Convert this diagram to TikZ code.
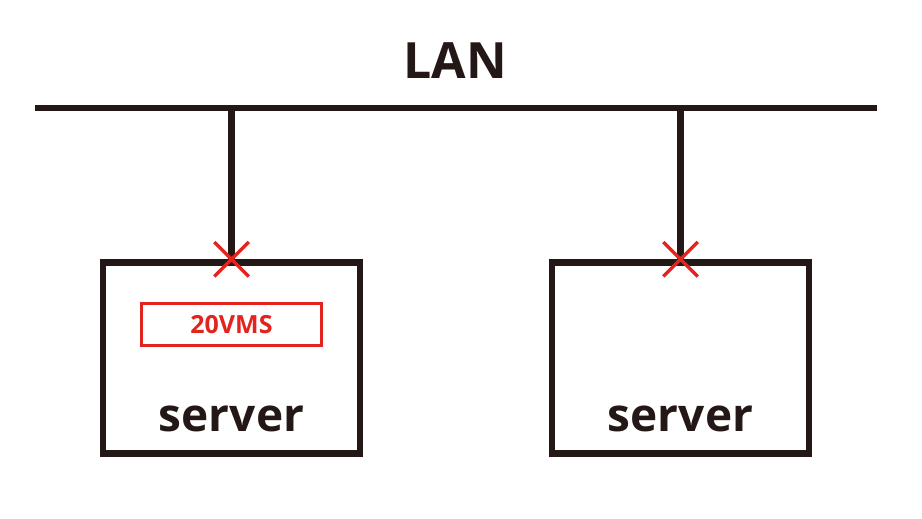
\documentclass[tikz,border=0pt]{standalone}
\usepackage{fontspec}
\setmainfont{Open Sans}
\usetikzlibrary{shapes.misc}
\definecolor{ink}{HTML}{231815}
\definecolor{mark}{HTML}{E3231E}

\begin{document}
\begin{tikzpicture}[x=1pt,y=-1pt,
    bus/.style={draw=ink, line width=6pt},
    drop/.style={draw=ink, line width=7pt},
    serverbox/.style={draw=ink, line width=6.5pt, minimum width=257pt,
        minimum height=191pt, inner sep=0pt},
    vmbox/.style={draw=mark, line width=3pt, minimum width=180pt,
        minimum height=42pt, inner sep=0pt, text=mark,
        font=\fontsize{25}{25}\selectfont\bfseries},
    tapmark/.style={cross out, draw=mark, line width=3.5pt, minimum size=31pt,
        inner sep=0pt},
    label/.style={text=ink, font=\fontsize{46}{46}\selectfont\bfseries}]
    \useasboundingbox (0,0) rectangle (922,519);
    % the LAN bus
    \coordinate (lanW) at (35,108.5);
    \coordinate (lanE) at (877,108.5);
    \draw[bus] (lanW) -- (lanE);
    \node[text=ink, font=\fontsize{50}{50}\selectfont\bfseries] (lan) at (455,61) {LAN};
    % the two servers
    \node[serverbox] (srvL) at (231.5,358) {};
    \node[serverbox] (srvR) at (680.5,358) {};
    \node[label, anchor=base] (nameL) at ([yshift=25.5pt]srvL.south) {server};
    \node[label, anchor=base] (nameR) at ([yshift=25.5pt]srvR.south) {server};
    \node[vmbox] (vms) at (231.5,324.5) {20VMS};
    % taps from the bus down to the servers
    \coordinate (tapL) at (srvL.north |- lanW);
    \coordinate (tapR) at (srvR.north |- lanW);
    \draw[drop] (tapL) -- (srvL.north);
    \draw[drop] (tapR) -- (srvR.north);
    \node[tapmark] (xL) at (srvL.north) {};
    \node[tapmark] (xR) at (srvR.north) {};
\end{tikzpicture}
\end{document}
